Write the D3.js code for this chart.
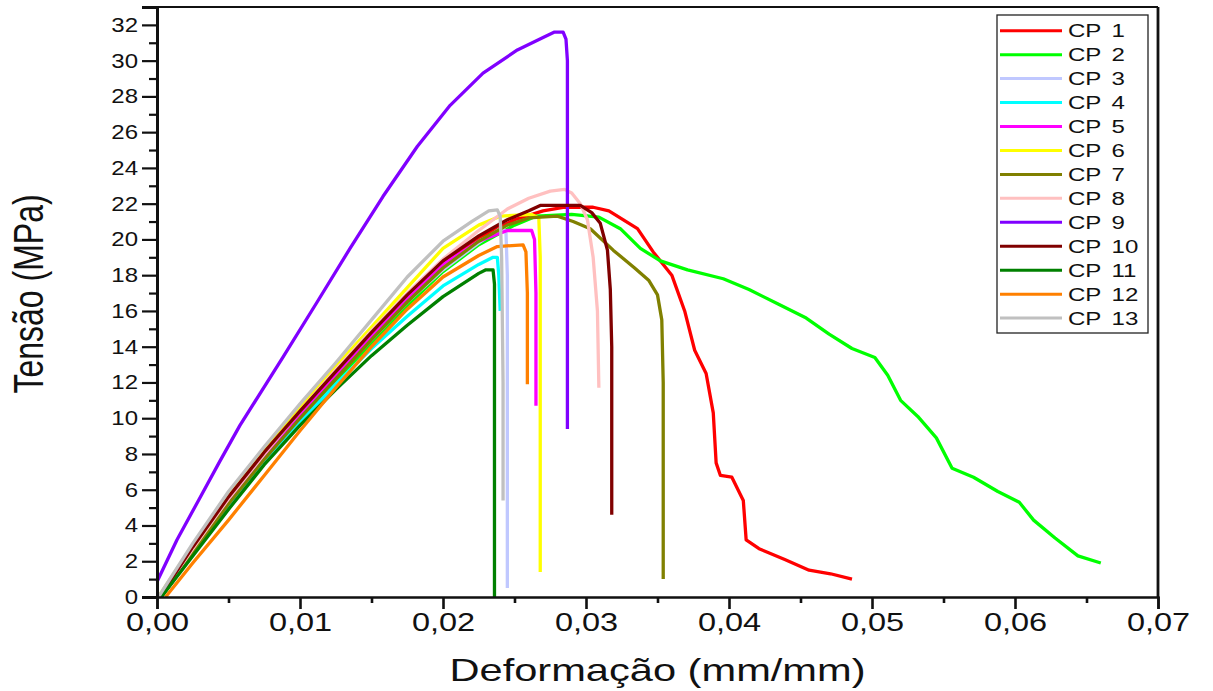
<!DOCTYPE html>
<html>
<head>
<meta charset="utf-8">
<script src="https://cdn.jsdelivr.net/npm/d3@7"></script>
<style>
  html, body { margin: 0; padding: 0; background: #ffffff; }
  svg { display: block; }
  text { font-family: "Liberation Sans", Arial, Helvetica, sans-serif; fill: #111; }
</style>
</head>
<body>
<svg id="chart" width="1213" height="691"></svg>
<script>
// Stress–strain curves of the 13 test specimens (strain mm/mm, stress MPa)
const seriesNames = ["CP 1","CP 2","CP 3","CP 4","CP 5","CP 6","CP 7","CP 8","CP 9","CP 10","CP 11","CP 12","CP 13"];
const seriesColors = ["#ff0000","#00ff00","#c0c8ff","#00ffff","#ff00ff","#ffff00","#808000","#ffc0c0","#8000ff","#800000","#008000","#ff8000","#c0c0c0"];

const cp1 = [[0.0002,0],[0.0025,2.7],[0.005,5.5],[0.0075,8.0],[0.01,10.3],[0.0125,12.5],[0.015,14.7],[0.0175,16.8],[0.02,18.7],[0.0225,20.1],[0.025,21.1],[0.027,21.6],[0.0285,21.8],[0.0305,21.8],[0.0316,21.6],[0.0336,20.6],[0.0347,19.3],[0.036,18.0],[0.0369,16.0],[0.0376,13.8],[0.0384,12.5],[0.0389,10.3],[0.0391,7.5],[0.0394,6.8],[0.0402,6.7],[0.041,5.4],[0.0412,3.2],[0.0421,2.7],[0.0439,2.1],[0.0456,1.5],[0.0471,1.3],[0.0486,1.0]];
const cp2 = [[0.0003,0],[0.0025,2.5],[0.005,5.1],[0.0075,7.6],[0.01,9.9],[0.0125,12.1],[0.015,14.2],[0.0175,16.3],[0.02,18.2],[0.0225,19.7],[0.025,20.8],[0.0265,21.3],[0.029,21.4],[0.0309,21.25],[0.0324,20.6],[0.0338,19.5],[0.0352,18.8],[0.0371,18.3],[0.0396,17.8],[0.0414,17.2],[0.0434,16.4],[0.0454,15.6],[0.047,14.7],[0.0486,13.9],[0.0502,13.4],[0.0511,12.4],[0.052,11.0],[0.0532,10.1],[0.0545,8.9],[0.0556,7.2],[0.0571,6.7],[0.0588,5.9],[0.0603,5.3],[0.0613,4.3],[0.0628,3.3],[0.0644,2.3],[0.066,1.9]];
const cp3 = [[0.0002,0],[0.0025,2.6],[0.005,5.3],[0.0075,7.8],[0.01,10.1],[0.0125,12.3],[0.015,14.4],[0.0175,16.5],[0.02,18.3],[0.0225,19.8],[0.024,20.6],[0.0244,20.5],[0.0245,18.0],[0.0245,0.5]];
const cp4 = [[0.0003,0],[0.0025,2.4],[0.005,5.0],[0.0075,7.5],[0.01,9.8],[0.0125,11.9],[0.015,13.9],[0.0175,15.7],[0.02,17.4],[0.0225,18.6],[0.0235,19.0],[0.0238,19.0],[0.0239,18.0],[0.0240,16.0]];
const cp5 = [[0.0002,0],[0.0025,2.6],[0.005,5.3],[0.0075,7.8],[0.01,10.1],[0.0125,12.4],[0.015,14.6],[0.0175,16.7],[0.02,18.6],[0.0225,19.9],[0.0245,20.5],[0.0262,20.5],[0.0264,20.0],[0.0265,17.0],[0.0265,10.7]];
const cp6 = [[0.0001,0],[0.0025,2.9],[0.005,5.8],[0.0075,8.3],[0.01,10.6],[0.0125,12.9],[0.015,15.1],[0.0175,17.3],[0.02,19.5],[0.0225,20.8],[0.024,21.3],[0.0262,21.4],[0.0267,21.2],[0.0268,19.0],[0.0268,1.4]];
const cp7 = [[0.0003,0],[0.0025,2.5],[0.005,5.2],[0.0075,7.7],[0.01,10.0],[0.0125,12.2],[0.015,14.4],[0.0175,16.5],[0.02,18.4],[0.0225,19.9],[0.0245,20.8],[0.026,21.2],[0.028,21.3],[0.0291,21.0],[0.0303,20.6],[0.0319,19.4],[0.0334,18.4],[0.0344,17.7],[0.035,16.9],[0.0353,15.5],[0.0354,12.0],[0.0354,1.0]];
const cp8 = [[0.0002,0],[0.0025,2.7],[0.005,5.5],[0.0075,8.0],[0.01,10.4],[0.0125,12.7],[0.015,14.9],[0.0175,17.0],[0.02,18.9],[0.0225,20.5],[0.0245,21.7],[0.026,22.3],[0.0275,22.7],[0.0285,22.8],[0.029,22.6],[0.0296,22.0],[0.0301,21.1],[0.0305,19.0],[0.0308,16.0],[0.0309,11.7]];
const cp9 = [[0,0.85],[0.0014,3.2],[0.0029,5.4],[0.0044,7.6],[0.0058,9.6],[0.0088,13.4],[0.0112,16.5],[0.0135,19.5],[0.0158,22.4],[0.0182,25.2],[0.0205,27.5],[0.0228,29.3],[0.0252,30.6],[0.027,31.3],[0.0278,31.6],[0.0284,31.6],[0.0286,31.2],[0.0287,30.0],[0.0287,9.4]];
const cp10 = [[0.0002,0],[0.0025,2.8],[0.005,5.6],[0.0075,8.1],[0.01,10.4],[0.0125,12.6],[0.015,14.8],[0.0175,16.9],[0.02,18.8],[0.0225,20.2],[0.0245,21.1],[0.026,21.6],[0.0268,21.9],[0.0296,21.9],[0.0304,21.5],[0.031,20.9],[0.0315,19.4],[0.0317,17.2],[0.0318,14.0],[0.0318,4.6]];
const cp11 = [[0.0003,0],[0.0025,2.3],[0.005,4.9],[0.0075,7.4],[0.01,9.6],[0.0125,11.6],[0.015,13.5],[0.0175,15.2],[0.02,16.8],[0.0225,18.1],[0.023,18.3],[0.0235,18.3],[0.0236,17.5],[0.0236,0]];
const cp12 = [[0.0006,0],[0.0025,1.9],[0.005,4.3],[0.0075,6.8],[0.01,9.3],[0.0125,11.7],[0.015,14.0],[0.0175,16.1],[0.02,17.9],[0.0225,19.1],[0.0238,19.6],[0.0256,19.7],[0.0258,19.3],[0.0259,17.0],[0.0259,11.9]];
const cp13 = [[0.0001,0],[0.0025,3.0],[0.005,5.9],[0.0075,8.4],[0.01,10.8],[0.0125,13.1],[0.015,15.5],[0.0175,17.9],[0.02,19.9],[0.022,21.0],[0.0232,21.6],[0.0238,21.65],[0.024,21.3],[0.0241,19.0],[0.0242,12.0],[0.0242,5.4]];

const seriesData = [cp1,cp2,cp3,cp4,cp5,cp6,cp7,cp8,cp9,cp10,cp11,cp12,cp13];

const xTickValues = [0,0.01,0.02,0.03,0.04,0.05,0.06,0.07];
const xTickLabels = ["0,00","0,01","0,02","0,03","0,04","0,05","0,06","0,07"];
const yTickValues = [0,2,4,6,8,10,12,14,16,18,20,22,24,26,28,30,32];
const xMinorValues = [0.005,0.015,0.025,0.035,0.045,0.055,0.065];
const yMinorValues = [1,3,5,7,9,11,13,15,17,19,21,23,25,27,29,31];

const xTitle = "Deformação (mm/mm)";
const yTitle = "Tensão (MPa)";

// Text in this figure is set wide (horizontal stretch)
const SX = 1.3;

const svg = d3.select("#chart");
const plotLeft = 157, plotRight = 1158, plotTop = 7, plotBottom = 597;

const x = d3.scaleLinear().domain([0, 0.07]).range([plotLeft, plotRight]);
const y = d3.scaleLinear().domain([0, 33]).range([plotBottom, plotTop]);

// Curves
const line = d3.line().x(d => x(d[0])).y(d => y(d[1]));
const curves = svg.append("g");
seriesData.forEach((pts, i) => {
  curves.append("path")
    .attr("d", line(pts))
    .attr("fill", "none")
    .attr("stroke", seriesColors[i])
    .attr("stroke-width", 3.3)
    .attr("stroke-linejoin", "round")
    .attr("stroke-linecap", "butt");
});

// Frame (top and right)
svg.append("line").attr("x1", plotLeft).attr("x2", plotRight).attr("y1", plotTop).attr("y2", plotTop)
  .attr("stroke", "#111").attr("stroke-width", 2.2);
svg.append("line").attr("x1", plotRight).attr("x2", plotRight).attr("y1", plotTop).attr("y2", plotBottom)
  .attr("stroke", "#111").attr("stroke-width", 2.8);

// Bottom axis
const xAxis = d3.axisBottom(x).tickValues(xTickValues).tickSize(12).tickPadding(4)
  .tickFormat((d, i) => xTickLabels[i]);
const gx = svg.append("g").attr("transform", `translate(0,${plotBottom})`).call(xAxis);
gx.select(".domain").attr("stroke", "#111").attr("stroke-width", 2.4);
gx.selectAll(".tick line").attr("stroke", "#111").attr("stroke-width", 2.6);
gx.selectAll(".tick text")
  .attr("y", 0).attr("dy", 0)
  .attr("transform", `translate(0,34) scale(${SX},1)`)
  .style("font-size", "25px").style("font-family", "'Liberation Sans', Arial, sans-serif").attr("fill", "#111");
svg.append("g").attr("transform", `translate(0,${plotBottom})`)
  .call(d3.axisBottom(x).tickValues(xMinorValues).tickSize(6).tickFormat(""))
  .call(g => g.select(".domain").remove())
  .selectAll(".tick line").attr("stroke", "#111").attr("stroke-width", 2.6);

// Left axis
const yAxis = d3.axisLeft(y).tickValues(yTickValues).tickSize(15).tickPadding(3);
const gy = svg.append("g").attr("transform", `translate(${plotLeft},0)`).call(yAxis);
gy.select(".domain").attr("stroke", "#111").attr("stroke-width", 3);
gy.selectAll(".tick line").attr("stroke", "#111").attr("stroke-width", 2.2);
gy.selectAll(".tick text")
  .attr("x", 0)
  .attr("transform", `translate(-19,0) scale(1.2,1)`)
  .style("font-size", "20px").style("font-family", "'Liberation Sans', Arial, sans-serif").attr("fill", "#111");
svg.append("g").attr("transform", `translate(${plotLeft},0)`)
  .call(d3.axisLeft(y).tickValues(yMinorValues).tickSize(8).tickFormat(""))
  .call(g => g.select(".domain").remove())
  .selectAll(".tick line").attr("stroke", "#111").attr("stroke-width", 2.2);

// Axis titles
svg.append("text")
  .attr("transform", `translate(${(plotLeft + plotRight) / 2},681) scale(${SX},1)`)
  .attr("text-anchor", "middle")
  .style("font-size", "32px")
  .text(xTitle);
svg.append("text")
  .attr("transform", `translate(43,${(plotTop + plotBottom) / 2 - 8}) rotate(-90) scale(1,${SX})`)
  .attr("text-anchor", "middle")
  .style("font-size", "32px")
  .text(yTitle);

// Legend
const lg = svg.append("g");
const lgTop = 30.7, lgStep = 23.95;
lg.append("rect")
  .attr("x", 997).attr("y", 15).attr("width", 151).attr("height", 318)
  .attr("fill", "#fff").attr("stroke", "#222").attr("stroke-width", 1.3);
seriesNames.forEach((name, i) => {
  const yy = lgTop + i * lgStep;
  lg.append("line").attr("x1", 1000).attr("x2", 1062).attr("y1", yy).attr("y2", yy)
    .attr("stroke", seriesColors[i]).attr("stroke-width", 3);
  lg.append("text")
    .attr("transform", `translate(1068,${yy + 6.5}) scale(${SX},1)`)
    .style("font-size", "18.5px")
    .style("word-spacing", "3px")
    .text(name);
});
</script>
</body>
</html>
